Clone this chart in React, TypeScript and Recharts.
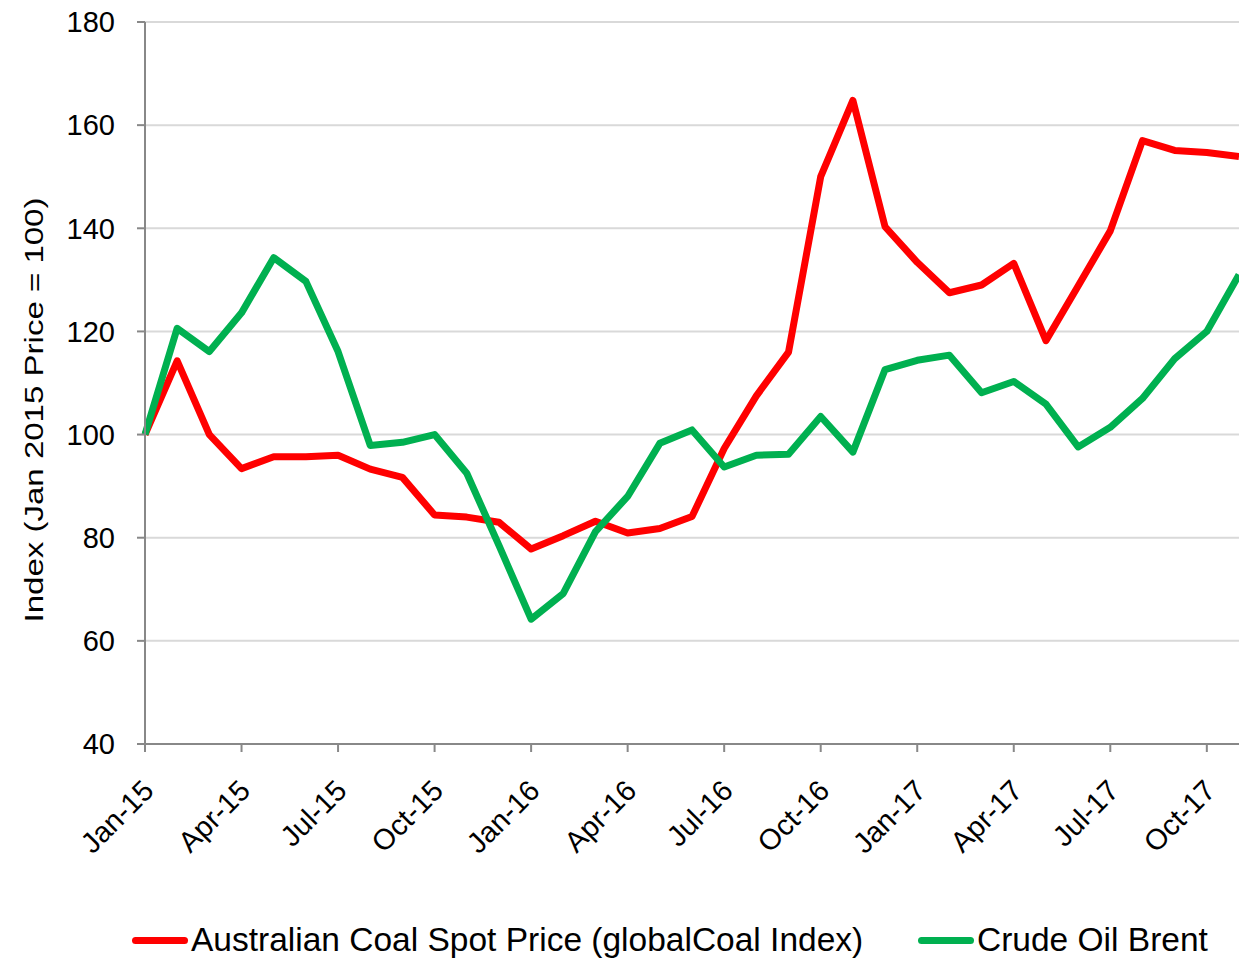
import React from 'react';
import { LineChart, Line, XAxis, YAxis, CartesianGrid, Legend } from 'recharts';

const months = [
  'Jan-15','Feb-15','Mar-15','Apr-15','May-15','Jun-15','Jul-15','Aug-15','Sep-15','Oct-15','Nov-15','Dec-15',
  'Jan-16','Feb-16','Mar-16','Apr-16','May-16','Jun-16','Jul-16','Aug-16','Sep-16','Oct-16','Nov-16','Dec-16',
  'Jan-17','Feb-17','Mar-17','Apr-17','May-17','Jun-17','Jul-17','Aug-17','Sep-17','Oct-17','Nov-17',
];

const coal = [
  100, 114.3, 100, 93.4, 95.7, 95.7, 96, 93.3, 91.7, 84.4, 84, 83,
  77.8, 80.4, 83.2, 80.9, 81.8, 84.1, 97.3, 107.5, 116, 150, 164.8, 140.3,
  133.4, 127.5, 129, 133.2, 118.2, 128.8, 139.5, 157, 155.1, 154.7, 153.9,
];

const brent = [
  100, 120.6, 116.1, 123.6, 134.3, 129.7, 116.1, 97.9, 98.5, 100, 92.5, 78.5,
  64.2, 69.2, 81.2, 88, 98.3, 100.9, 93.7, 96, 96.2, 103.5, 96.6, 112.6,
  114.4, 115.4, 108.1, 110.3, 105.9, 97.6, 101.4, 107, 114.7, 120, 131,
];

const yTicks = [40, 60, 80, 100, 120, 140, 160, 180];

const seriesNames = ['Australian Coal Spot Price (globalCoal Index)', 'Crude Oil Brent'];
const seriesColors = ['#ff0000', '#00b050'];

const data = months.map((m, i) => ({ month: m, coal: coal[i], brent: brent[i] }));

const AXIS_FONT = '"Liberation Sans", Arial, sans-serif';
const LEGEND_FONT = '"Liberation Sans Narrow", "Liberation Sans", Arial, sans-serif';

const XTick = (props: any) => {
  const { x, y, payload } = props;
  return (
    <g transform={`translate(${x + 3},${y + 31}) rotate(-45)`}>
      <text
        x={0}
        y={0}
        dy="0.36em"
        textAnchor="end"
        fontFamily={AXIS_FONT}
        fontSize={29}
        fill="#000"
      >
        {payload.value}
      </text>
    </g>
  );
};

const LegendContent = () => (
  <div style={{ position: 'relative', width: 1239, height: 50, fontFamily: LEGEND_FONT, fontSize: 33.5, color: '#000' }}>
    {seriesNames.map((n, i) => (
      <div
        key={n}
        style={{ position: 'absolute', left: i === 0 ? 132 : 918, top: 6, display: 'flex', alignItems: 'center', whiteSpace: 'nowrap' }}
      >
        <div style={{ width: 56, height: 7, borderRadius: 4, background: seriesColors[i], marginRight: 3 }} />
        <span>{n}</span>
      </div>
    ))}
  </div>
);

export default function App() {
  return (
    <div style={{ position: 'absolute', left: 0, top: 0, width: 1239, height: 960, background: '#fff' }}>
      <LineChart width={1239} height={960} data={data} margin={{ top: 22, right: 0, left: 0, bottom: 0 }}>
        <CartesianGrid vertical={false} stroke="#d9d9d9" strokeWidth={2} />
        <XAxis
          dataKey="month"
          interval={2}
          height={216}
          tick={<XTick />}
          tickSize={8}
          axisLine={{ stroke: '#888', strokeWidth: 2 }}
          tickLine={{ stroke: '#888', strokeWidth: 2 }}
        />
        <YAxis
          domain={[40, 180]}
          ticks={yTicks}
          width={145}
          tickSize={8}
          tickMargin={22}
          interval={0}
          tick={{ fontFamily: AXIS_FONT, fontSize: 29, fill: '#000' }}
          axisLine={{ stroke: '#888', strokeWidth: 2 }}
          tickLine={{ stroke: '#888', strokeWidth: 2 }}
          label={{
            content: () => (
              <text
                x={43}
                y={410}
                transform="rotate(-90 43 410)"
                textAnchor="middle"
                fontFamily={AXIS_FONT}
                fontSize={26}
                textLength={425}
                lengthAdjust="spacingAndGlyphs"
                fill="#000"
              >
                Index  (Jan 2015 Price = 100)
              </text>
            ),
          }}
        />
        <Legend verticalAlign="middle" layout="horizontal" wrapperStyle={{ top: 915, left: 0, width: 1239 }} content={<LegendContent />} />
        <Line
          type="linear"
          dataKey="coal"
          name={seriesNames[0]}
          stroke={seriesColors[0]}
          strokeWidth={7}
          dot={false}
          activeDot={false}
          isAnimationActive={false}
          strokeLinejoin="round"
        />
        <Line
          type="linear"
          dataKey="brent"
          name={seriesNames[1]}
          stroke={seriesColors[1]}
          strokeWidth={7}
          dot={false}
          activeDot={false}
          isAnimationActive={false}
          strokeLinejoin="round"
        />
      </LineChart>
    </div>
  );
}
